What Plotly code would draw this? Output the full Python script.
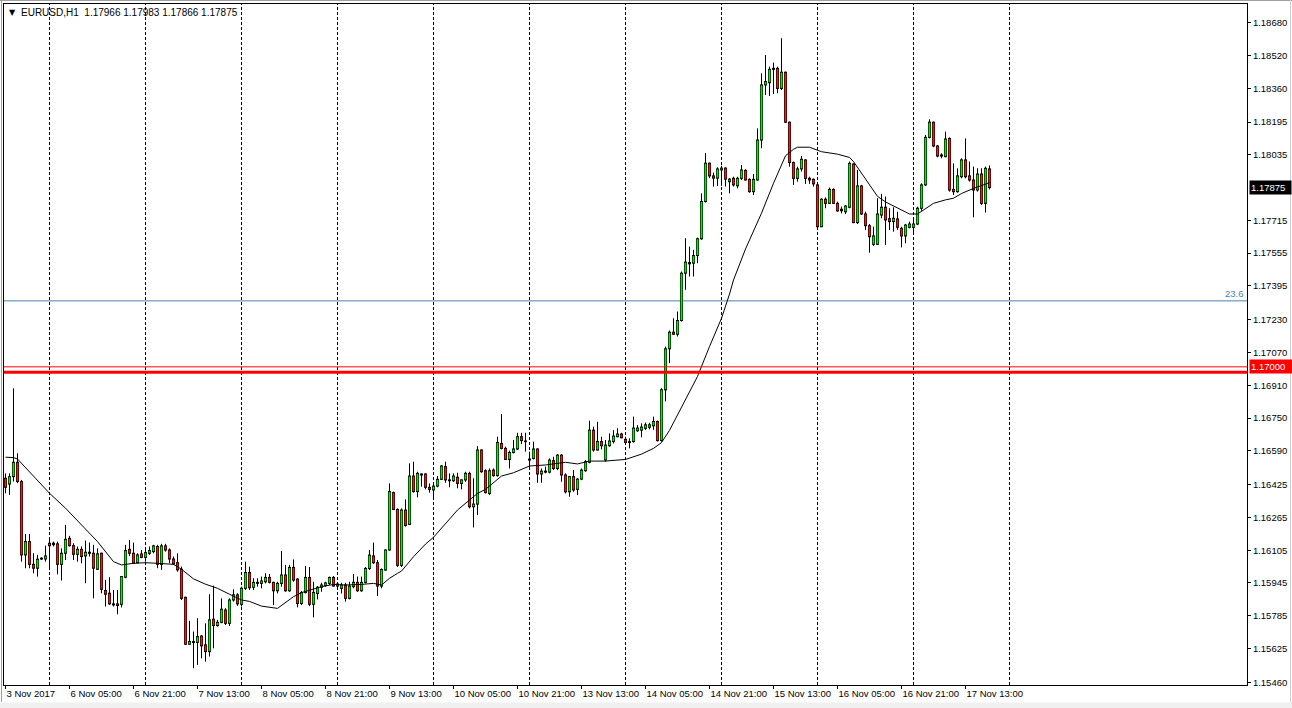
import plotly.graph_objects as go

# ---------------- data (EURUSD, H1) ----------------
bars = list(range(247))

opens = [1.16456,1.16428,1.16464,1.16534,1.16440,1.16082,1.16147,1.16036,1.16017,1.16062,
1.16062,1.16139,1.16139,1.16136,1.16036,1.16090,1.16163,1.16127,1.16085,1.16109,
1.16077,1.16095,1.16090,1.16012,1.16090,1.15908,1.15895,1.15843,1.15843,1.15841,
1.15973,1.16109,1.16090,1.16044,1.16087,1.16070,1.16090,1.16098,1.16123,1.16036,
1.16126,1.16106,1.16062,1.16044,1.16012,1.15875,1.15646,1.15659,1.15655,1.15686,
1.15643,1.15610,1.15768,1.15737,1.15753,1.15813,1.15748,1.15862,1.15887,1.15841,
1.15919,1.15996,1.15924,1.15948,1.15943,1.15951,1.15972,1.15948,1.15907,1.15943,
1.15984,1.15907,1.16021,1.15964,1.15845,1.15898,1.15972,1.15841,1.15894,1.15924,
1.15932,1.15943,1.15972,1.15930,1.15919,1.15935,1.15870,1.15927,1.15948,1.15907,
1.15948,1.16016,1.16077,1.16044,1.15930,1.16008,1.16106,1.16386,1.16304,1.16031,
1.16301,1.16231,1.16467,1.16391,1.16477,1.16477,1.16412,1.16399,1.16418,1.16451,
1.16513,1.16448,1.16444,1.16461,1.16431,1.16448,1.16480,1.16317,1.16330,1.16594,
1.16493,1.16382,1.16496,1.16469,1.16626,1.16602,1.16548,1.16582,1.16599,1.16659,
1.16638,1.16545,1.16553,1.16599,1.16477,1.16491,1.16486,1.16542,1.16504,1.16569,
1.16472,1.16390,1.16464,1.16402,1.16452,1.16493,1.16534,1.16691,1.16594,1.16635,
1.16545,1.16615,1.16635,1.16659,1.16672,1.16646,1.16631,1.16635,1.16688,1.16691,
1.16700,1.16705,1.16712,1.16733,1.16640,1.16888,1.17088,1.17169,1.17159,1.17226,
1.17457,1.17509,1.17506,1.17543,1.17625,1.17807,1.17994,1.17932,1.17921,1.17961,
1.17970,1.17904,1.17920,1.17884,1.17920,1.17959,1.17915,1.17855,1.17912,1.18107,
1.18376,1.18387,1.18452,1.18457,1.18359,1.18438,1.18194,1.17997,1.17920,1.17966,
1.18010,1.17920,1.17915,1.17888,1.17684,1.17818,1.17798,1.17866,1.17798,1.17769,
1.17757,1.17779,1.17990,1.17704,1.17883,1.17746,1.17689,1.17598,1.17598,1.17741,
1.17779,1.17723,1.17709,1.17722,1.17676,1.17639,1.17681,1.17681,1.17697,1.17774,
1.17888,1.18120,1.18194,1.18078,1.18029,1.18026,1.18115,1.17866,1.17855,1.17928,
1.18010,1.17932,1.17912,1.17863,1.17941,1.17798,1.17966]

highs = [1.16480,1.16480,1.16895,1.16578,1.16448,1.16184,1.16184,1.16090,1.16082,1.16070,
1.16127,1.16163,1.16147,1.16147,1.16114,1.16228,1.16175,1.16139,1.16123,1.16123,
1.16152,1.16142,1.16131,1.16114,1.16093,1.15960,1.15973,1.15911,1.15911,1.15979,
1.16131,1.16155,1.16142,1.16090,1.16106,1.16114,1.16123,1.16131,1.16131,1.16136,
1.16136,1.16114,1.16074,1.16090,1.16025,1.15878,1.15760,1.15708,1.15773,1.15691,
1.15748,1.15890,1.15932,1.15765,1.15870,1.15822,1.15870,1.15914,1.15895,1.15927,
1.16049,1.16025,1.15968,1.15968,1.15976,1.15992,1.15989,1.15951,1.15951,1.16101,
1.16033,1.16033,1.16060,1.15968,1.15906,1.16028,1.16023,1.15951,1.15930,1.15946,
1.15951,1.15976,1.15979,1.15946,1.15946,1.15946,1.15951,1.15989,1.15976,1.15976,
1.16023,1.16106,1.16142,1.16057,1.16016,1.16109,1.16431,1.16391,1.16309,1.16309,
1.16353,1.16529,1.16537,1.16488,1.16480,1.16480,1.16431,1.16423,1.16467,1.16521,
1.16537,1.16480,1.16480,1.16483,1.16451,1.16488,1.16488,1.16456,1.16613,1.16597,
1.16500,1.16504,1.16504,1.16659,1.16770,1.16610,1.16591,1.16643,1.16678,1.16678,
1.16678,1.16586,1.16635,1.16602,1.16504,1.16513,1.16553,1.16561,1.16574,1.16574,
1.16480,1.16467,1.16496,1.16456,1.16504,1.16545,1.16737,1.16708,1.16732,1.16659,
1.16643,1.16675,1.16691,1.16700,1.16678,1.16659,1.16651,1.16757,1.16716,1.16724,
1.16728,1.16727,1.16757,1.16738,1.16896,1.17099,1.17177,1.17237,1.17270,1.17465,
1.17628,1.17587,1.17571,1.17631,1.17847,1.18043,1.17997,1.17948,1.17974,1.17981,
1.17974,1.17921,1.17928,1.17928,1.17985,1.17964,1.17920,1.17941,1.18164,1.18433,
1.18522,1.18465,1.18485,1.18465,1.18604,1.18441,1.18197,1.18002,1.17977,1.18029,
1.18013,1.17928,1.17920,1.17890,1.17823,1.17827,1.17875,1.17871,1.17806,1.17782,
1.17790,1.18002,1.17993,1.17961,1.17888,1.17757,1.17697,1.17684,1.17823,1.17844,
1.17831,1.17774,1.17779,1.17757,1.17684,1.17697,1.17709,1.17717,1.17782,1.17896,
1.18132,1.18208,1.18197,1.18083,1.18042,1.18148,1.18120,1.17993,1.17969,1.18018,
1.18115,1.18002,1.17977,1.17969,1.17969,1.17977,1.17983]

lows = [1.16383,1.16375,1.16440,1.16432,1.16049,1.16017,1.16017,1.15992,1.15976,1.16057,
1.16049,1.16009,1.16123,1.15987,1.15957,1.16057,1.16123,1.16057,1.16049,1.16041,
1.15944,1.16074,1.15870,1.16009,1.15895,1.15830,1.15838,1.15830,1.15792,1.15826,
1.15968,1.16077,1.16038,1.16041,1.16066,1.16049,1.16082,1.16090,1.16017,1.16009,
1.16098,1.16041,1.16033,1.16000,1.15862,1.15643,1.15643,1.15529,1.15545,1.15577,
1.15561,1.15586,1.15626,1.15732,1.15748,1.15740,1.15735,1.15854,1.15833,1.15830,
1.15911,1.15911,1.15911,1.15927,1.15919,1.15943,1.15943,1.15837,1.15894,1.15927,
1.15902,1.15902,1.15951,1.15826,1.15837,1.15894,1.15832,1.15777,1.15865,1.15902,
1.15927,1.15935,1.15927,1.15919,1.15894,1.15854,1.15865,1.15919,1.15902,1.15902,
1.15943,1.16008,1.16038,1.15881,1.15919,1.16005,1.16103,1.16301,1.16023,1.16023,
1.16220,1.16228,1.16386,1.16363,1.16415,1.16402,1.16386,1.16358,1.16412,1.16448,
1.16434,1.16412,1.16439,1.16407,1.16402,1.16439,1.16309,1.16216,1.16277,1.16483,
1.16382,1.16374,1.16464,1.16464,1.16597,1.16545,1.16504,1.16577,1.16594,1.16623,
1.16586,1.16504,1.16548,1.16434,1.16434,1.16480,1.16480,1.16496,1.16496,1.16439,
1.16382,1.16366,1.16390,1.16374,1.16447,1.16488,1.16529,1.16586,1.16591,1.16597,
1.16537,1.16610,1.16626,1.16656,1.16651,1.16623,1.16602,1.16630,1.16683,1.16656,
1.16692,1.16695,1.16692,1.16635,1.16635,1.16831,1.17018,1.17156,1.17148,1.17221,
1.17376,1.17441,1.17441,1.17506,1.17620,1.17802,1.17921,1.17880,1.17883,1.17883,
1.17880,1.17847,1.17880,1.17871,1.17912,1.17909,1.17850,1.17839,1.17909,1.18067,
1.18327,1.18322,1.18332,1.18335,1.18351,1.18192,1.17977,1.17888,1.17904,1.17953,
1.17893,1.17893,1.17880,1.17682,1.17682,1.17774,1.17795,1.17795,1.17757,1.17749,
1.17746,1.17774,1.17701,1.17697,1.17741,1.17668,1.17557,1.17590,1.17595,1.17725,
1.17595,1.17668,1.17660,1.17668,1.17583,1.17603,1.17676,1.17652,1.17692,1.17762,
1.17883,1.18115,1.18072,1.18023,1.18018,1.18023,1.17855,1.17839,1.17850,1.17920,
1.17920,1.17904,1.17730,1.17855,1.17790,1.17753,1.17866]

closes = [1.16412,1.16464,1.16534,1.16440,1.16082,1.16147,1.16036,1.16017,1.16061,1.16066,
1.16077,1.16127,1.16132,1.16036,1.16090,1.16158,1.16127,1.16085,1.16109,1.16074,
1.16095,1.16090,1.16017,1.16087,1.15914,1.15890,1.15843,1.15838,1.15835,1.15976,
1.16103,1.16090,1.16041,1.16082,1.16070,1.16093,1.16103,1.16126,1.16036,1.16126,
1.16106,1.16062,1.16038,1.16009,1.15870,1.15646,1.15659,1.15654,1.15683,1.15638,
1.15610,1.15765,1.15737,1.15753,1.15817,1.15748,1.15862,1.15887,1.15843,1.15919,
1.15996,1.15922,1.15948,1.15943,1.15955,1.15972,1.15948,1.15907,1.15943,1.15984,
1.15907,1.16021,1.15959,1.15845,1.15898,1.15972,1.15841,1.15899,1.15924,1.15935,
1.15945,1.15972,1.15930,1.15940,1.15935,1.15870,1.15930,1.15948,1.15907,1.15948,
1.16016,1.16081,1.16044,1.15930,1.16011,1.16106,1.16391,1.16304,1.16031,1.16301,
1.16226,1.16467,1.16391,1.16480,1.16472,1.16412,1.16402,1.16418,1.16451,1.16516,
1.16448,1.16444,1.16467,1.16431,1.16448,1.16480,1.16317,1.16330,1.16594,1.16488,
1.16386,1.16493,1.16469,1.16631,1.16602,1.16548,1.16582,1.16599,1.16659,1.16640,
1.16635,1.16550,1.16599,1.16477,1.16491,1.16486,1.16545,1.16504,1.16569,1.16472,
1.16390,1.16464,1.16399,1.16452,1.16496,1.16537,1.16691,1.16594,1.16635,1.16615,
1.16618,1.16638,1.16662,1.16672,1.16654,1.16631,1.16635,1.16701,1.16701,1.16706,
1.16717,1.16717,1.16733,1.16640,1.16888,1.17088,1.17169,1.17159,1.17226,1.17457,
1.17511,1.17503,1.17543,1.17625,1.17807,1.17994,1.17932,1.17921,1.17966,1.17970,
1.17916,1.17916,1.17888,1.17920,1.17961,1.17912,1.17855,1.17915,1.18107,1.18376,
1.18392,1.18452,1.18457,1.18359,1.18438,1.18194,1.17997,1.17920,1.17966,1.18013,
1.17920,1.17912,1.17893,1.17684,1.17818,1.17798,1.17866,1.17798,1.17761,1.17762,
1.17785,1.17993,1.17704,1.17883,1.17746,1.17689,1.17635,1.17639,1.17746,1.17779,
1.17717,1.17709,1.17725,1.17681,1.17639,1.17692,1.17697,1.17697,1.17774,1.17888,
1.18120,1.18194,1.18078,1.18029,1.18034,1.18112,1.17863,1.17855,1.17932,1.18010,
1.17928,1.17912,1.17863,1.17941,1.17798,1.17969,1.17875]

# moving average line (bar index, value)
ma_bars = [0,2,3,7,11,15,19,23,27,29,32,35,38,42,44,47,50,53,56,59,61,64,68,70,72,74,76,79,
           82,85,89,92,94,96,98,99,102,105,107,110,113,116,118,120,124,127,131,135,140,143,
           146,150,155,159,162,164,166,168,170,173,176,179,181,182,185,189,192,194,195,197,
           198,201,203,204,208,211,212,214,216,218,220,222,225,226,228,230,232,235,237,239,
           242,246]
ma_vals = [1.16559,1.16557,1.16550,1.16464,1.16383,1.16310,1.16228,1.16147,1.16049,1.16033,
           1.16041,1.16044,1.16041,1.16036,1.16012,1.15965,1.15939,1.15919,1.15890,1.15862,
           1.15855,1.15832,1.15821,1.15849,1.15878,1.15898,1.15911,1.15927,1.15938,1.15935,
           1.15938,1.15943,1.15935,1.15968,1.15992,1.16003,1.16073,1.16135,1.16168,1.16233,
           1.16301,1.16350,1.16382,1.16402,1.16467,1.16483,1.16516,1.16521,1.16534,1.16526,
           1.16540,1.16540,1.16548,1.16574,1.16602,1.16630,1.16690,1.16765,1.16839,1.16953,
           1.17099,1.17237,1.17355,1.17424,1.17575,1.17750,1.17896,1.17985,1.18030,1.18062,
           1.18072,1.18072,1.18058,1.18050,1.18038,1.18022,1.18002,1.17945,1.17885,1.17832,
           1.17805,1.17785,1.17758,1.17746,1.17746,1.17770,1.17798,1.17815,1.17823,1.17846,
           1.17871,1.17899]

label_bars = [0,16,32,48,64,80,96,112,128,144,160,176,192,208,224,240]
label_text = ["3 Nov 2017","6 Nov 05:00","6 Nov 21:00","7 Nov 13:00","8 Nov 05:00",
              "8 Nov 21:00","9 Nov 13:00","10 Nov 05:00","10 Nov 21:00","13 Nov 13:00",
              "14 Nov 05:00","14 Nov 21:00","15 Nov 13:00","16 Nov 05:00","16 Nov 21:00",
              "17 Nov 13:00"]
day_bars = [11,35,59,83,107,131,155,179,203,227,251]

price_ticks = [1.18680,1.18520,1.18360,1.18195,1.18035,1.17715,1.17555,1.17395,1.17230,
               1.17070,1.16910,1.16750,1.16590,1.16425,1.16265,1.16105,1.15945,1.15785,
               1.15625,1.15460]

level_price = 1.17000
support_price = 1.16974
fib_price = 1.17322
fib_label = "23.6"
last_price = 1.17875
header = "EURUSD,H1  1.17966 1.17983 1.17866 1.17875"

# ---------------- figure ----------------
FONT = "Liberation Sans, Arial, sans-serif"
GREEN = "#00ee00"
RED = "#ff1414"
Y0, Y1 = 1.15447, 1.18771
PX = (Y1 - Y0) / 681.0          # price per screen pixel

body_lo = [min(opens[i], closes[i]) for i in bars]
body_hi = [max(opens[i], closes[i]) for i in bars]
body_h = [body_hi[i] - body_lo[i] for i in bars]

fig = go.Figure()

# wicks
wx, wy = [], []
for i in bars:
    wx += [i, i, None]
    wy += [lows[i], highs[i], None]
fig.add_trace(go.Scatter(x=wx, y=wy, mode="lines", line=dict(color="black", width=1),
                         hoverinfo="skip", showlegend=False))

# bodies: black 3px frame then coloured core, both as scatter line segments
fx, fy = [], []
for i in bars:
    fx += [i, i, None]
    fy += [body_lo[i] - PX * 0.5, body_hi[i] + PX * 0.5, None]
fig.add_trace(go.Scatter(x=fx, y=fy, mode="lines", line=dict(color="black", width=3),
                         hoverinfo="skip", showlegend=False))

for is_up, col in ((True, GREEN), (False, RED)):
    cx, cy = [], []
    for i in bars:
        if (closes[i] >= opens[i]) == is_up and body_h[i] > 1.5 * PX:
            cx += [i, i, None]
            cy += [body_lo[i] + PX * 0.5, body_hi[i] - PX * 0.5, None]
    fig.add_trace(go.Scatter(x=cx, y=cy, mode="lines", line=dict(color=col, width=1.8),
                             hoverinfo="skip", showlegend=False))

fig.add_trace(go.Scatter(x=ma_bars, y=ma_vals, mode="lines",
                         line=dict(color="black", width=1),
                         hoverinfo="skip", showlegend=False))

shapes = []
for b in day_bars:
    shapes.append(dict(type="line", xref="x", yref="paper", x0=b, x1=b, y0=0, y1=1,
                       line=dict(color="black", width=1, dash="3px,2px"), layer="below"))
shapes.append(dict(type="line", xref="paper", yref="y", x0=0, x1=1, y0=fib_price, y1=fib_price,
                   line=dict(color="#4682B4", width=1), layer="below"))
shapes.append(dict(type="line", xref="paper", yref="y", x0=0, x1=1, y0=level_price, y1=level_price,
                   line=dict(color="#ff0000", width=1), layer="above"))
shapes.append(dict(type="line", xref="paper", yref="y", x0=0, x1=1, y0=support_price, y1=support_price,
                   line=dict(color="#ff0000", width=3), layer="above"))
# window frame
W, H = 1243.0, 681.0
def px(x):
    return (x - 4) / W
def py(y):
    return (685 - y) / H
shapes.append(dict(type="rect", xref="paper", yref="paper", x0=px(-1), x1=px(1293),
                   y0=py(702.5), y1=py(709), fillcolor="#f0f0f0", line=dict(width=0)))
shapes.append(dict(type="line", xref="paper", yref="paper", x0=px(1.5), x1=px(1.5),
                   y0=py(0), y1=py(702), line=dict(color="#a0a0a0", width=1)))
shapes.append(dict(type="line", xref="paper", yref="paper", x0=px(0), x1=px(1292),
                   y0=py(0.5), y1=py(0.5), line=dict(color="#a0a0a0", width=1)))
shapes.append(dict(type="line", xref="paper", yref="paper", x0=px(1290.5), x1=px(1290.5),
                   y0=py(0), y1=py(702), line=dict(color="#d0d0d0", width=1)))

annotations = [
    dict(xref="paper", yref="paper", x=px(7), y=py(13), xanchor="left", yanchor="middle",
         text="\u25bc", showarrow=False, font=dict(family="DejaVu Sans", size=8, color="black")),
    dict(xref="paper", yref="paper", x=px(19), y=py(12.5), xanchor="left", yanchor="middle",
         text=header, showarrow=False, font=dict(family=FONT, size=10, color="black")),
    dict(xref="paper", yref="y", x=1, y=fib_price, xanchor="right", yanchor="bottom",
         xshift=-1, text=fib_label, showarrow=False,
         font=dict(family=FONT, size=9.5, color="#4682B4")),
    dict(xref="paper", yref="y", x=1, y=last_price, xanchor="left", yanchor="middle",
         xshift=2, text="1.17875", showarrow=False, bgcolor="black", borderpad=1,
         width=39, align="left", font=dict(family=FONT, size=9.5, color="white")),
    dict(xref="paper", yref="y", x=1, y=level_price, xanchor="left", yanchor="middle",
         xshift=2, text="1.17000", showarrow=False, bgcolor="#ff0000", borderpad=1,
         width=40, align="left", font=dict(family=FONT, size=9.5, color="white")),
]

fig.update_layout(
    width=1292, height=708,
    margin=dict(l=4, r=45, t=4, b=23),
    paper_bgcolor="white", plot_bgcolor="white",
    showlegend=False, shapes=shapes, annotations=annotations,
    font=dict(family=FONT, size=9.5, color="black"),
    xaxis=dict(range=[-0.375, 310.375],
               showgrid=False, zeroline=False, showline=True, linecolor="black",
               linewidth=1, mirror=True, tickmode="array", tickvals=label_bars,
               ticktext=label_text, ticks="outside", ticklen=3, tickcolor="black",
               ticklabelposition="outside right", tickangle=0, automargin=False,
               tickfont=dict(family=FONT, size=9.5, color="black")),
    yaxis=dict(range=[Y0, Y1], side="right", showgrid=False, zeroline=False,
               showline=True, linecolor="black", linewidth=1, mirror=True,
               tickmode="array", tickvals=price_ticks,
               ticktext=[f"{v:.5f}" for v in price_ticks], ticks="outside", ticklen=3,
               tickcolor="black", automargin=False,
               tickfont=dict(family=FONT, size=9.5, color="black")),
)

fig.write_html("out.html", config={"displayModeBar": False},
               post_script="document.body.style.margin='0';")
